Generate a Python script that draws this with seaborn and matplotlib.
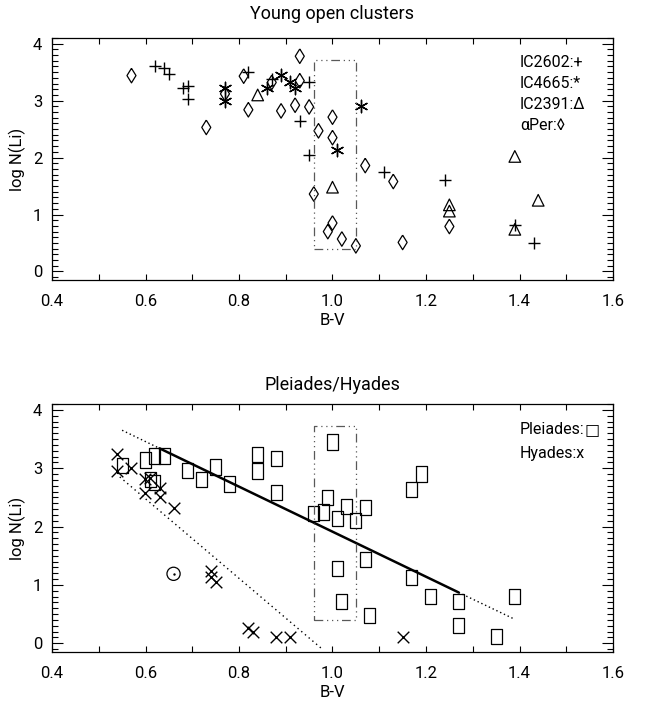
import numpy as np
import matplotlib
matplotlib.use("Agg")
import matplotlib.pyplot as plt
from matplotlib.ticker import MultipleLocator
import seaborn as sns

# ── data: young open clusters ──────────
ic2602_bv = [0.62, 0.64, 0.65, 0.68, 0.69, 0.69, 0.82, 0.87, 0.95, 0.93, 0.95, 1.11, 1.24, 1.39, 1.43]
ic2602_li = [3.61, 3.57, 3.46, 3.23, 3.25, 3.03, 3.51, 3.38, 3.32, 2.65, 2.05, 1.75, 1.60, 0.82, 0.50]

ic4665_bv = [0.77, 0.77, 0.86, 0.89, 0.91, 0.92, 1.06, 1.01]
ic4665_li = [3.22, 3.00, 3.22, 3.45, 3.33, 3.22, 2.91, 2.14]

ic2391_bv = [0.84, 1.00, 1.25, 1.25, 1.39, 1.44, 1.39]
ic2391_li = [3.10, 1.48, 1.17, 1.06, 2.02, 1.25, 0.74]

aper_bv = [0.57, 0.73, 0.77, 0.81, 0.82, 0.87, 0.89, 0.92, 0.93, 0.93, 0.95, 0.97, 0.96,
           1.00, 1.00, 1.07, 1.13, 1.00, 0.99, 1.02, 1.05, 1.15, 1.25]
aper_li = [3.44, 2.53, 3.12, 3.43, 2.84, 3.32, 2.82, 2.92, 3.35, 3.78, 2.89, 2.47, 1.36,
           2.71, 2.35, 1.86, 1.58, 0.85, 0.70, 0.57, 0.45, 0.51, 0.79]

# ── data: Pleiades / Hyades ──────────
pleiades_bv = [0.55, 0.60, 0.62, 0.64, 0.61, 0.62, 0.69, 0.72, 0.75, 0.78, 0.84, 0.84, 0.88, 0.88,
               0.96, 0.98, 0.99, 1.00, 1.01, 1.03, 1.05, 1.07, 1.07, 1.01, 1.02, 1.08,
               1.17, 1.19, 1.17, 1.21, 1.27, 1.27, 1.35, 1.39]
pleiades_li = [3.04, 3.14, 3.21, 3.21, 2.80, 2.76, 2.96, 2.80, 3.02, 2.73, 3.23, 2.95, 3.16, 2.58,
               2.23, 2.25, 2.50, 3.45, 2.14, 2.35, 2.11, 2.32, 1.44, 1.28, 0.71, 0.48,
               2.63, 2.90, 1.13, 0.80, 0.72, 0.30, 0.11, 0.80]

hyades_bv = [0.54, 0.54, 0.57, 0.60, 0.61, 0.60, 0.63, 0.63, 0.66, 0.74, 0.74, 0.75,
             0.82, 0.83, 0.88, 0.91, 1.15]
hyades_li = [3.24, 2.96, 3.00, 2.81, 2.83, 2.58, 2.66, 2.50, 2.32, 1.23, 1.14, 1.05,
             0.26, 0.20, 0.11, 0.11, 0.11]

sun_bv = [0.66]
sun_li = [1.19]

# fitted lines (Pleiades solid part + dotted ends, Hyades dotted)
pl_fit_bv = [0.55, 0.63, 1.27, 1.39]
pl_fit_li = [3.65, 3.34, 0.87, 0.41]
hy_fit_bv = [0.545, 0.978]
hy_fit_li = [2.85, -0.10]

# box around the B-V ~ 1.0 region
box_bv = [0.96, 1.05, 1.05, 0.96, 0.96]
box_li = [0.40, 0.40, 3.72, 3.72, 0.40]

sns.set_style("ticks")
plt.rcParams["font.family"] = ["Roboto", "DejaVu Sans"]
plt.rcParams["text.color"] = "k"
plt.rcParams["axes.labelcolor"] = "k"
plt.rcParams["axes.linewidth"] = 0.9

diamond = [(0, 1), (0.62, 0), (0, -1), (-0.62, 0), (0, 1)]
square = [(-0.72, -1), (0.72, -1), (0.72, 1), (-0.72, 1), (-0.72, -1)]
asterisk = (6, 2, 0)

fig = plt.figure(figsize=(6.5, 7.16), dpi=100)
ax1 = fig.add_axes([52 / 650, 1 - 280 / 716, 561 / 650, 242 / 716])
ax2 = fig.add_axes([52 / 650, 1 - 652 / 716, 561 / 650, 248 / 716])


def style_axes(ax, title, tpad):
    ax.set_xlim(0.4, 1.6)
    ax.set_ylim(-0.15, 4.1)
    ax.xaxis.set_major_locator(MultipleLocator(0.2))
    ax.xaxis.set_minor_locator(MultipleLocator(0.1))
    ax.yaxis.set_major_locator(MultipleLocator(1))
    ax.yaxis.set_minor_locator(MultipleLocator(0.1))
    ax.tick_params(which="both", direction="in", top=True, right=True, width=0.8, colors="k")
    ax.tick_params(axis="x", which="both", length=4, pad=10, labelsize=12)
    ax.tick_params(axis="y", which="major", length=8, pad=7, labelsize=12)
    ax.tick_params(axis="y", which="minor", length=4)
    ax.set_xticklabels([f"{v:.1f}" for v in ax.get_xticks()])
    ax.set_xlim(0.4, 1.6)
    for s in ax.spines.values():
        s.set_visible(True)
        s.set_color("k")
    ax.set_title(title, fontsize=13, pad=tpad, color="k")
    ax.set_xlabel("B-V", fontsize=12, labelpad=3)
    ax.set_ylabel("log N(Li)", fontsize=12, labelpad=5)


# ── top panel ──────────
sns.scatterplot(x=ic2602_bv, y=ic2602_li, ax=ax1, marker="+", s=80, color="k", linewidth=1.0, legend=False)
sns.scatterplot(x=ic4665_bv, y=ic4665_li, ax=ax1, marker=asterisk, s=80, color="k", linewidth=1.0, legend=False)
sns.scatterplot(x=ic2391_bv, y=ic2391_li, ax=ax1, marker="^", s=70, facecolor="none", edgecolor="k", linewidth=0.9, legend=False)
sns.scatterplot(x=aper_bv, y=aper_li, ax=ax1, marker=diamond, s=110, facecolor="none", edgecolor="k", linewidth=0.9, legend=False)
ax1.plot(box_bv, box_li, color="0.35", lw=0.9, linestyle=(0, (7, 3, 1, 3, 1, 3, 1, 3)))
style_axes(ax1, "Young open clusters", 14)

for i, lab in enumerate(["IC2602:+", "IC4665:*", "IC2391:Δ", "αPer:◊"]):
    ax1.text(0.834, 0.90 - i * 0.087, lab, transform=ax1.transAxes, fontsize=11.5, va="center", ha="left", color="k")

# ── bottom panel ──────────
sns.scatterplot(x=pleiades_bv, y=pleiades_li, ax=ax2, marker=square, s=120, facecolor="none", edgecolor="k", linewidth=0.9, legend=False)
sns.scatterplot(x=hyades_bv, y=hyades_li, ax=ax2, marker="x", s=70, color="k", linewidth=1.0, legend=False)
sns.scatterplot(x=sun_bv, y=sun_li, ax=ax2, marker="o", s=90, facecolor="none", edgecolor="k", linewidth=0.9, legend=False)
sns.scatterplot(x=sun_bv, y=sun_li, ax=ax2, marker="o", s=3, color="k", linewidth=0, legend=False)
ax2.plot(pl_fit_bv[:2], pl_fit_li[:2], color="k", lw=1, linestyle=(0, (1, 2)))
ax2.plot(pl_fit_bv[1:3], pl_fit_li[1:3], color="k", lw=1.8)
ax2.plot(pl_fit_bv[2:], pl_fit_li[2:], color="k", lw=1, linestyle=(0, (1, 2)))
ax2.plot(hy_fit_bv, hy_fit_li, color="k", lw=1, linestyle=(0, (1, 2.5)))
ax2.plot(box_bv, box_li, color="0.35", lw=0.9, linestyle=(0, (7, 3, 1, 3, 1, 3, 1, 3)))
style_axes(ax2, "Pleiades/Hyades", 10)

t = ax2.text(0.834, 0.899, "Pleiades:", transform=ax2.transAxes, fontsize=11.5, va="center", ha="left", color="k")
ax2.annotate("□", xy=(1, 0.5), xycoords=t, va="center", ha="left", fontsize=11.5,
             family=["DejaVu Sans"], fontweight="normal", color="k")
ax2.text(0.834, 0.802, "Hyades:x", transform=ax2.transAxes, fontsize=11.5, va="center", ha="left", color="k")

fig.savefig("out.png", dpi=100)
